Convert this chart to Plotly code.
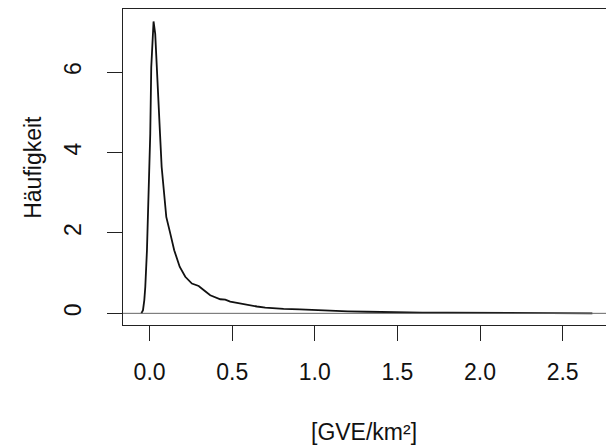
import plotly.graph_objects as go

# density curve
dens_x = [-0.050, -0.040, -0.032, -0.026, -0.016, -0.006, 0.004, 0.010, 0.018, 0.024,
          0.034, 0.045, 0.055, 0.063, 0.073, 0.089, 0.101, 0.125, 0.149, 0.182,
          0.216, 0.256, 0.297, 0.327, 0.367, 0.428, 0.458, 0.488, 0.559, 0.609,
          0.650, 0.700, 0.740, 0.811, 0.910, 1.000, 1.110, 1.200, 1.315, 1.420,
          1.517, 1.650, 1.800, 1.950, 2.100, 2.250, 2.400, 2.500, 2.600, 2.680]
dens_y = [0.00, 0.08, 0.33, 0.66, 1.57, 2.81, 4.47, 6.12, 6.95, 7.26,
          6.95, 6.12, 5.29, 4.47, 3.64, 2.81, 2.40, 1.99, 1.57, 1.16,
          0.91, 0.74, 0.68, 0.58, 0.45, 0.35, 0.34, 0.29, 0.23, 0.20,
          0.17, 0.14, 0.125, 0.11, 0.10, 0.08, 0.065, 0.05, 0.04, 0.03,
          0.025, 0.02, 0.018, 0.015, 0.016, 0.012, 0.010, 0.008, 0.004, 0.0]

x_ticks = [0.0, 0.5, 1.0, 1.5, 2.0, 2.5]
x_tick_labels = ["0.0", "0.5", "1.0", "1.5", "2.0", "2.5"]
y_ticks = [0, 2, 4, 6]
y_tick_labels = ["0", "2", "4", "6"]

FONT = "Liberation Sans, Arial, sans-serif"
FS = 23

fig = go.Figure()
fig.add_trace(go.Scatter(x=dens_x, y=dens_y, mode="lines",
                         line=dict(color="#111111", width=1.8), hoverinfo="skip"))

fig.add_shape(type="line", xref="paper", x0=0, x1=1, yref="y", y0=0, y1=0,
              line=dict(color="#666666", width=1))

fig.update_layout(
    width=606, height=439,
    margin=dict(l=115, r=0, t=1, b=122, autoexpand=False),
    paper_bgcolor="white", plot_bgcolor="white",
    showlegend=False,
    font=dict(family=FONT, size=FS, color="#111111"),
    xaxis=dict(range=[-0.161, 2.811], tickvals=x_ticks, ticktext=x_tick_labels,
               automargin=False,
               showgrid=False, zeroline=False, showline=True, mirror=True,
               linecolor="#222222", linewidth=1,
               ticks="outside", ticklen=15, tickcolor="#222222", tickwidth=1,
               ticklabelstandoff=11,
               tickfont=dict(family=FONT, size=FS, color="#111111")),
    yaxis=dict(range=[-0.29, 7.57], tickvals=y_ticks, ticktext=y_tick_labels,
               automargin=False,
               showgrid=False, zeroline=False, showline=True, mirror=False,
               linecolor="#222222", linewidth=1,
               ticks="outside", ticklen=15, tickcolor="#222222", tickwidth=1,
               tickangle=-90, ticklabelstandoff=17,
               tickfont=dict(family=FONT, size=FS, color="#111111")),
    annotations=[
        dict(text="[GVE/km²]", xref="paper", yref="paper", x=0.491, y=-0.339,
             xanchor="center", yanchor="middle", showarrow=False,
             font=dict(family=FONT, size=FS, color="#111111")),
        dict(text="Häufigkeit", xref="paper", yref="paper", x=-0.185, y=0.498,
             xanchor="center", yanchor="middle", showarrow=False, textangle=-90,
             font=dict(family=FONT, size=FS, color="#111111")),
    ],
)

fig.write_html("out.html")
